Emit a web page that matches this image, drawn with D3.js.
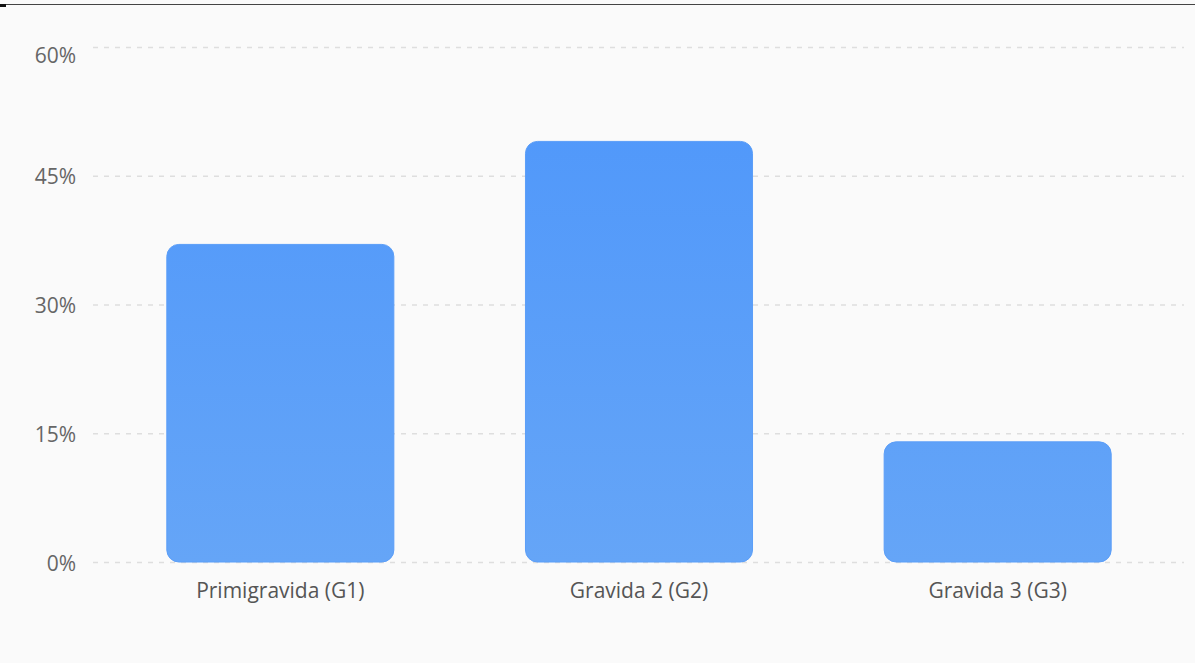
<!DOCTYPE html>
<html>
<head>
<meta charset="utf-8">
<script src="https://cdn.jsdelivr.net/npm/d3@7"></script>
<style>
  html, body { margin: 0; padding: 0; background: #fafafa; }
  svg { display: block; }
</style>
</head>
<body>
<svg id="chart" width="1195" height="663"></svg>
<script>
// Gravidity distribution (percent of cases)
const categories = ["Primigravida (G1)", "Gravida 2 (G2)", "Gravida 3 (G3)"];
const percentValues = [37, 49, 14];
const yTicks = [0, 15, 30, 45, 60];

const W = 1195, H = 663;
const svg = d3.select("#chart");
const font = "'Open Sans', 'Noto Sans', sans-serif";

svg.append("rect").attr("width", W).attr("height", H).attr("fill", "#fafafa");

// top frame line
svg.append("line").attr("x1", 0).attr("x2", W).attr("y1", 4.5).attr("y2", 4.5)
  .attr("stroke", "#444").attr("stroke-width", 1.2);
svg.append("rect").attr("x", 0).attr("y", 4).attr("width", 6).attr("height", 3).attr("fill", "#111");

const x = d3.scaleBand().domain(categories).range([101, 1177]).paddingInner(0.367).paddingOuter(0.1835);
const y = d3.scaleLinear().domain([0, 60]).range([562, 47]);

// vertical gradient shared across bars (user space)
const defs = svg.append("defs");
const grad = defs.append("linearGradient").attr("id", "barGrad")
  .attr("gradientUnits", "userSpaceOnUse")
  .attr("x1", 0).attr("x2", 0).attr("y1", y(60)).attr("y2", y(0));
grad.append("stop").attr("offset", "0%").attr("stop-color", "#4d96fb");
grad.append("stop").attr("offset", "100%").attr("stop-color", "#65a5f7");

// gridlines
svg.append("g").selectAll("line").data(yTicks).join("line")
  .attr("x1", 93).attr("x2", 1184)
  .attr("y1", d => y(d) + 0.5).attr("y2", d => y(d) + 0.5)
  .attr("stroke", "#dedede").attr("stroke-width", 1.4)
  .attr("stroke-dasharray", "5,6");

// y-axis labels (top label nudged down to stay inside the plot)
svg.append("g").selectAll("text").data(yTicks).join("text")
  .attr("x", 76).attr("y", d => d === 60 ? y(d) + 8 : y(d) + 1)
  .attr("dy", "0.36em")
  .attr("text-anchor", "end")
  .attr("font-family", font).attr("font-size", 21)
  .attr("fill", "#666")
  .text(d => d + "%");

// bars with rounded corners
svg.append("g").selectAll("rect").data(categories).join("rect")
  .attr("x", d => x(d))
  .attr("y", (d, i) => y(percentValues[i]))
  .attr("width", x.bandwidth())
  .attr("height", (d, i) => y(0) - y(percentValues[i]))
  .attr("rx", 12).attr("ry", 12)
  .attr("fill", "url(#barGrad)")
  .attr("stroke", "#5b9ef8").attr("stroke-width", 1);

// x-axis labels
svg.append("g").selectAll("text").data(categories).join("text")
  .attr("x", d => x(d) + x.bandwidth() / 2)
  .attr("y", 598)
  .attr("text-anchor", "middle")
  .attr("font-family", font).attr("font-size", 21)
  .attr("fill", "#555")
  .text(d => d);
</script>
</body>
</html>
